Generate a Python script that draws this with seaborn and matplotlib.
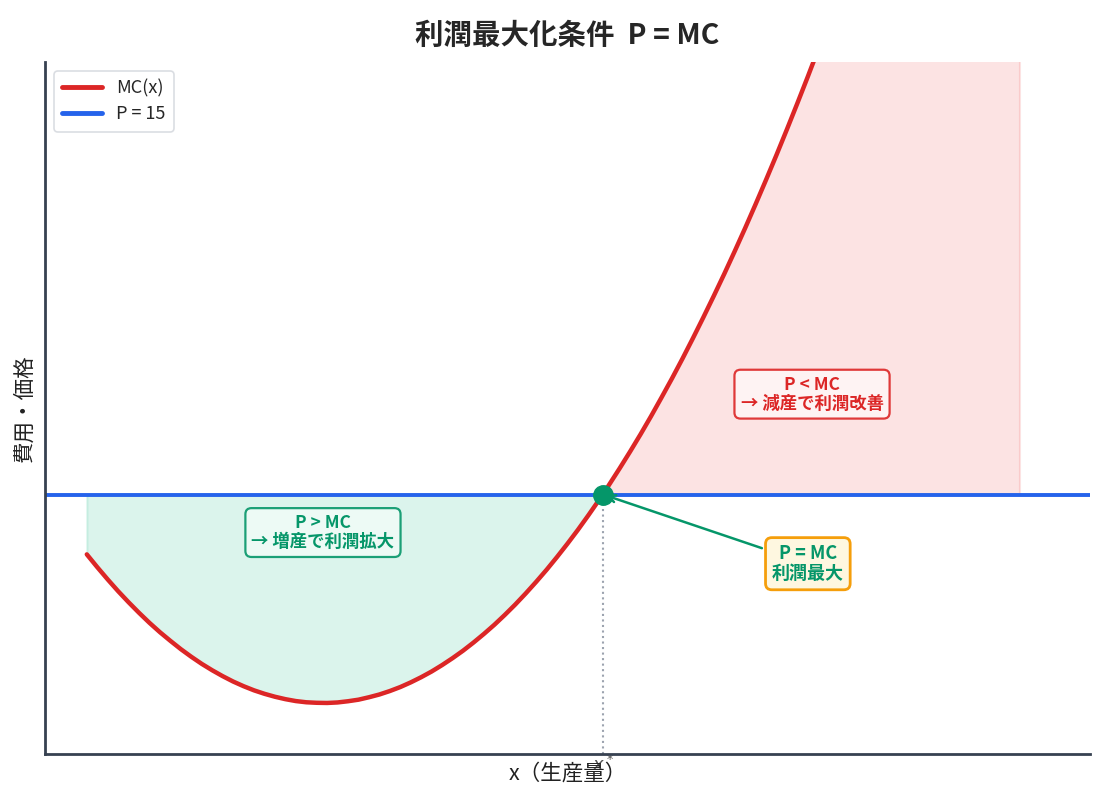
import matplotlib
matplotlib.use("Agg")
import matplotlib.pyplot as plt
import seaborn as sns
import numpy as np
import pandas as pd

# ---- data ----
x_vals = [0.4, 0.5, 0.6, 0.7, 0.8, 0.9, 1.0, 1.1, 1.2, 1.3, 1.4, 1.5, 1.6, 1.7,
          1.8, 1.9, 2.0, 2.1, 2.2, 2.3, 2.4, 2.5, 2.6, 2.7, 2.8, 2.9, 3.0, 3.1,
          3.2, 3.3, 3.4, 3.5, 3.6, 3.7, 3.8, 3.9, 4.0, 4.1, 4.2, 4.3, 4.4, 4.5,
          4.6, 4.7, 4.8, 4.9, 5.0, 5.1, 5.2, 5.3, 5.34, 5.4, 5.5, 5.6, 5.7, 5.8,
          5.9, 6.0, 6.1, 6.2, 6.3, 6.4, 6.5, 6.6, 6.7, 6.8, 6.9, 7.0, 7.1, 7.2,
          7.3, 7.4, 7.5, 7.6, 8.0, 8.5, 9.0, 9.33]
mc_vals = [11.54, 10.80, 10.09, 9.41, 8.77, 8.16, 7.58, 7.04, 6.54, 6.06, 5.62,
           5.21, 4.84, 4.50, 4.19, 3.92, 3.68, 3.48, 3.31, 3.17, 3.06, 2.99,
           2.96, 2.95, 2.98, 3.05, 3.14, 3.28, 3.44, 3.64, 3.87, 4.14, 4.44,
           4.77, 5.14, 5.54, 5.97, 6.44, 6.94, 7.47, 8.04, 8.64, 9.28, 9.95,
           10.65, 11.39, 12.16, 12.96, 13.80, 14.67, 15.00, 15.58, 16.52, 17.49,
           18.49, 19.53, 20.61, 21.71, 22.85, 24.03, 25.24, 26.48, 27.75, 29.06,
           30.40, 31.78, 33.19, 34.63, 36.11, 37.62, 39.16, 40.74, 42.35, 44.00,
           50.91, 60.32, 70.56, 77.78]
PRICE = 15
XSTAR = 5.34
series_labels = ["MC(x)", "P = 15"]

RED = "#dc2626"
BLUE = "#2563eb"
GREEN = "#059669"
AMBER = "#f59e0b"

sns.set_theme(style="white")
plt.rcParams["font.family"] = ["Noto Sans CJK JP", "DejaVu Sans"]
plt.rcParams["axes.unicode_minus"] = False

df = pd.DataFrame({"x": x_vals, "mc": mc_vals})
xa = np.array(x_vals)
ya = np.array(mc_vals)

fig = plt.figure(figsize=(11.05, 8.01), dpi=100)
ax = fig.add_axes([45 / 1105, 1 - 754 / 801, (1090 - 45) / 1105, (754 - 62) / 801])

# fills
ax.fill_between(xa, ya, PRICE, where=xa <= XSTAR + 1e-9, color="#10b981", alpha=0.15,
                interpolate=True, linewidth=1.5)
ax.fill_between(xa, ya, PRICE, where=xa >= XSTAR - 1e-9, color="#ef4444", alpha=0.15,
                interpolate=True, linewidth=1.5)

sns.lineplot(data=df, x="x", y="mc", ax=ax, color=RED, linewidth=3.2,
             label=series_labels[0], sort=False)
ax.axhline(PRICE, color=BLUE, linewidth=2.8, label=series_labels[1])

# vertical dotted line at x*
ax.plot([XSTAR, XSTAR], [0, PRICE], color="#9ca3af", linestyle=":", linewidth=1.5)

# equilibrium point
ax.plot([XSTAR], [PRICE], "o", color=GREEN, markersize=14, zorder=5)

ax.set_xlim(0, 10)
ax.set_ylim(0, 40)
ax.set_yticks([])
ax.set_xticks([XSTAR])
ax.set_xticklabels(["$x^*$"], fontsize=13, color="#555555")
ax.tick_params(axis="x", length=0, pad=1)

for s in ["top", "right"]:
    ax.spines[s].set_visible(False)
for s in ["left", "bottom"]:
    ax.spines[s].set_color("#374151")
    ax.spines[s].set_linewidth(2)

ax.set_xlabel("x（生産量）", fontsize=15.5, color="#222222")
ax.xaxis.set_label_coords(0.5, -0.013)
ax.set_ylabel("費用・価格", fontsize=15.5, color="#222222")
ax.yaxis.set_label_coords(-0.009, 0.5)

ax.set_title("利潤最大化条件  P = MC", fontsize=20.5, fontweight="bold", pad=13)

# annotations
ax.annotate("P = MC\n利潤最大", xy=(XSTAR, PRICE), xytext=(7.3, 11.0),
            ha="center", va="center", fontsize=13, fontweight="bold", color=GREEN,
            bbox=dict(boxstyle="round,pad=0.35", facecolor="#fef7e0", edgecolor=AMBER,
                      linewidth=2),
            arrowprops=dict(arrowstyle="->", color=GREEN, lw=1.8), linespacing=1.1)

ax.text(7.34, 20.8, "P < MC\n→ 減産で利潤改善", ha="center", va="center",
        fontsize=12.5, fontweight="bold", color=RED, linespacing=1.05,
        bbox=dict(boxstyle="round,pad=0.35", facecolor="#fff5f5", edgecolor=RED,
                  linewidth=1.6, alpha=0.9))

ax.text(2.66, 12.8, "P > MC\n→ 増産で利潤拡大", ha="center", va="center",
        fontsize=12.5, fontweight="bold", color=GREEN, linespacing=1.05,
        bbox=dict(boxstyle="round,pad=0.35", facecolor="#f0fbf7", edgecolor=GREEN,
                  linewidth=1.6, alpha=0.9))

leg = ax.legend(loc="upper left", fontsize=13, frameon=True, handlelength=2.2,
                borderpad=0.45, labelspacing=0.45)
for h in leg.get_lines():
    h.set_linewidth(3.5)
leg.get_frame().set_edgecolor("#d1d5db")
leg.get_frame().set_linewidth(1.2)

fig.savefig("out.png", dpi=100)
